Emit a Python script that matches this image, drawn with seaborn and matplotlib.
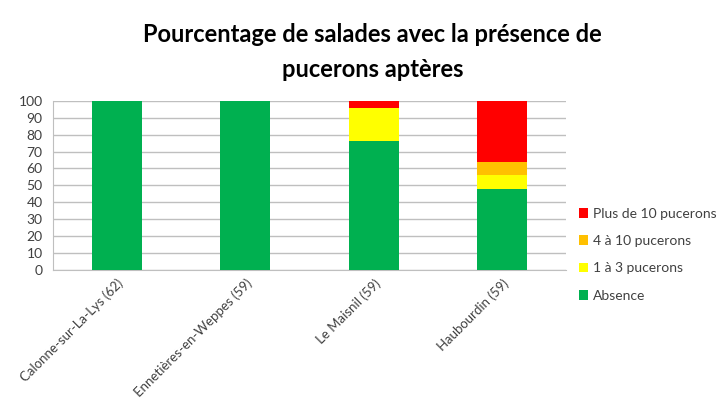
import numpy as np
import pandas as pd
import matplotlib.pyplot as plt
import seaborn as sns

sites = ["Calonne-sur-La-Lys (62)", "Ennetières-en-Weppes (59)", "Le Maisnil (59)", "Haubourdin (59)"]
absence = [100, 100, 76, 48]
un_a_trois = [0, 0, 20, 8]
quatre_a_dix = [0, 0, 0, 8]
plus_de_dix = [0, 0, 4, 36]

series = [("Absence", absence, "#00B050"),
          ("1 à 3 pucerons", un_a_trois, "#FFFF00"),
          ("4 à 10 pucerons", quatre_a_dix, "#FFC000"),
          ("Plus de 10 pucerons", plus_de_dix, "#FF0000")]

sns.set_style("white")
plt.rcParams['font.family'] = ['Lato', 'DejaVu Sans']

fig = plt.figure(figsize=(7.25, 4.17), dpi=100)
ax = fig.add_axes([0.073, 0.353, 0.708, 0.405])

# stacked bars: draw cumulative totals, tallest first
df = pd.DataFrame({"site": sites})
cum = np.zeros(len(sites))
for name, vals, col in series:
    cum = cum + np.array(vals)
    df[name] = cum
for name, vals, col in reversed(series):
    sns.barplot(data=df, x="site", y=name, color=col, width=0.39, ax=ax,
                label=name, linewidth=0, saturation=1, zorder=3)

ax.set_xlim(-0.5, len(sites) - 0.5)
ax.set_ylim(0, 100)
ax.set_yticks(range(0, 101, 10))
ax.yaxis.grid(True, color="#BFBFBF", linewidth=1)
ax.set_axisbelow(True)
for s in ["top", "right"]:
    ax.spines[s].set_visible(False)
ax.spines["left"].set_color("#BFBFBF")
ax.spines["bottom"].set_color("#BFBFBF")
ax.set_xticks(range(len(sites)))
ax.set_xticklabels(sites, rotation=45, ha="right", rotation_mode="anchor", fontsize=9.5, color="#404040")
ax.set_xticks(np.arange(-0.5, len(sites), 1), minor=True)
ax.tick_params(axis="x", which="major", length=0, pad=5)
ax.tick_params(axis="x", which="minor", length=4, color="#BFBFBF")
ax.tick_params(axis="y", length=4, color="#BFBFBF", labelsize=10, labelcolor="#404040")
ax.set_xlabel("")
ax.set_ylabel("")

fig.text(0.514, 0.875, "Pourcentage de salades avec la présence de\npucerons aptères",
         ha="center", va="center", fontsize=17, fontweight="bold", color="#000000", linespacing=1.6)

handles, labels = ax.get_legend_handles_labels()
leg = ax.legend(handles=handles, labels=labels,
                loc="center left", bbox_to_anchor=(1.0, 0.09), frameon=False,
                fontsize=10, handlelength=0.7, handleheight=0.7, handletextpad=0.3,
                labelspacing=1.1, labelcolor="#404040")

fig.savefig("out.png", dpi=100)
